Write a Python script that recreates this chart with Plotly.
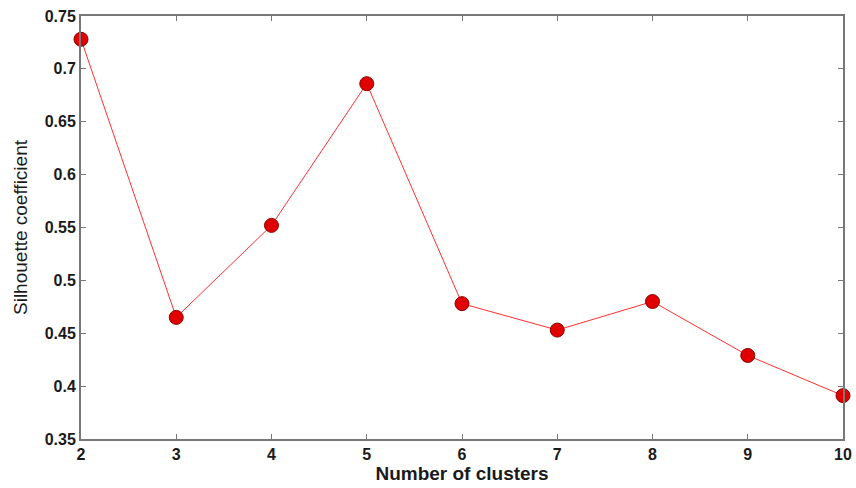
import plotly.graph_objects as go

clusters = [2, 3, 4, 5, 6, 7, 8, 9, 10]
silhouette = [0.728, 0.465, 0.552, 0.686, 0.478, 0.453, 0.480, 0.429, 0.391]
y_ticks = [0.35, 0.4, 0.45, 0.5, 0.55, 0.6, 0.65, 0.7, 0.75]
y_tick_text = ["0.35", "0.4", "0.45", "0.5", "0.55", "0.6", "0.65", "0.7", "0.75"]

fig = go.Figure()
fig.add_trace(go.Scatter(
    x=clusters, y=silhouette, mode="lines+markers",
    line=dict(color="#ff3030", width=1),
    marker=dict(color="#e00000", size=14, line=dict(color="#8a0000", width=1)),
    cliponaxis=False, showlegend=False,
))

axis_common = dict(
    showgrid=False, zeroline=False, showline=True, mirror="allticks",
    linecolor="#777777", linewidth=2, ticks="inside", ticklen=5,
    tickcolor="#777777", tickwidth=1, automargin=False,
    tickfont=dict(family="Liberation Sans", size=16, color="#1a1a1a", weight="bold"),
)

fig.update_xaxes(range=[2, 10], tickvals=clusters, **axis_common,
                 title=dict(text="Number of clusters", standoff=4,
                            font=dict(family="Liberation Sans Narrow, Liberation Sans", size=19,
                                      color="#1a1a1a", weight="bold")))
fig.update_yaxes(range=[0.35, 0.75], tickvals=y_ticks, ticktext=y_tick_text, **axis_common,
                 title=dict(text="Silhouette coefficient", standoff=12,
                            font=dict(family="Liberation Sans", size=19, color="#1a1a1a")))

fig.update_layout(
    width=856, height=488,
    margin=dict(l=81, r=13, t=16, b=49),
    plot_bgcolor="white", paper_bgcolor="white",
)

fig.write_html("out.html")
